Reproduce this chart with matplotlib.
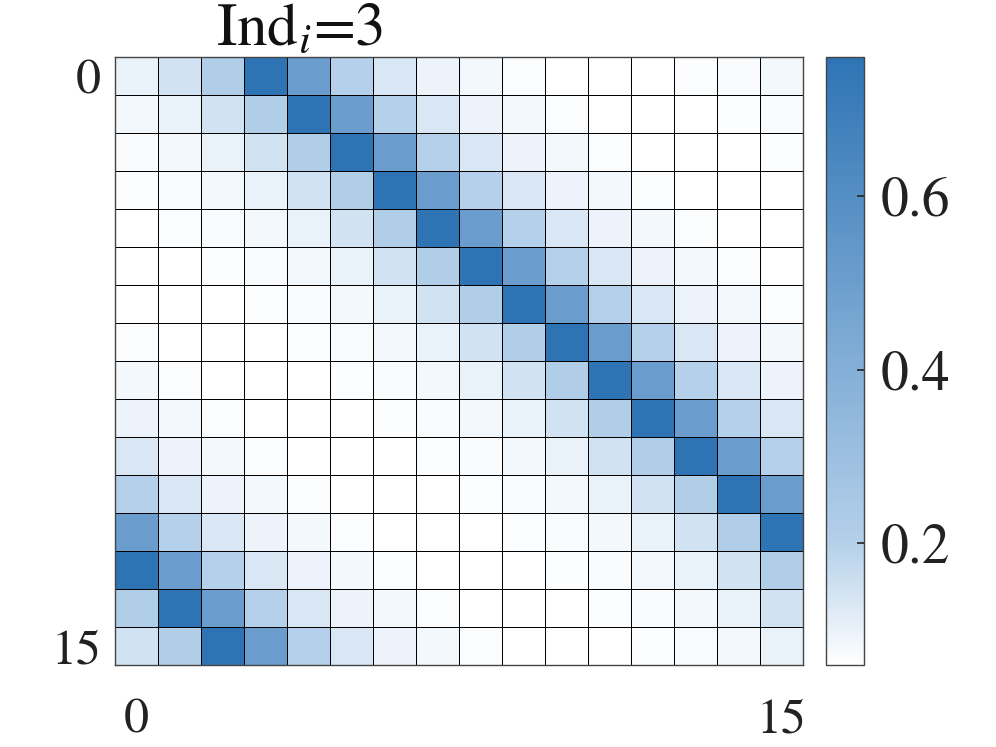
import numpy as np
import matplotlib
matplotlib.use('Agg')
import matplotlib.pyplot as plt
from matplotlib.colors import LinearSegmentedColormap

# weight by column offset from the peak column (col - peak, wrapped mod 16)
profile = [0.76, 0.51, 0.20, 0.133, 0.097, 0.082, 0.070, 0.060,
           0.060, 0.060, 0.068, 0.071, 0.084, 0.103, 0.146, 0.215]
# column of the darkest cell in each row
peak_cols = [3, 4, 5, 6, 7, 8, 9, 10, 11, 12, 13, 14, 15, 0, 1, 2]
x_ticks = [0, 15]
y_ticks = [0, 15]
cbar_ticks = [0.2, 0.4, 0.6]

n = len(profile)
M = np.array([[profile[(c - p) % n] for c in range(n)] for p in peak_cols])

plt.rcParams['font.family'] = ['STIXGeneral', 'DejaVu Serif']
plt.rcParams['mathtext.fontset'] = 'stix'

cmap = LinearSegmentedColormap.from_list(
    'wb', [(0.0, '#ffffff'), (0.2, '#b4d0ea'), (1.0, '#2e74b5')])
vmin, vmax = 0.06, 0.76

fig = plt.figure(figsize=(9.96, 7.47), dpi=100)
ax = fig.add_axes([0.1155, 0.1098, 0.6908, 0.8139])
cax = fig.add_axes([0.8293, 0.1098, 0.0382, 0.8139])

mesh = ax.pcolormesh(np.arange(n + 1) - 0.5, np.arange(n + 1) - 0.5, M,
                     cmap=cmap, vmin=vmin, vmax=vmax,
                     edgecolors='black', linewidth=0.65)
ax.set_xlim(-0.5, n - 0.5)
ax.set_ylim(n - 0.5, -0.5)
ax.set_xticks(x_ticks)
ax.set_yticks(y_ticks)
ax.tick_params(axis='x', length=0, pad=24, labelsize=36, colors='#222222')
ax.tick_params(axis='y', length=0, pad=10, labelsize=36, colors='#222222')
for s in ax.spines.values():
    s.set_color('#444444')
    s.set_linewidth(1.0)

cb = fig.colorbar(mesh, cax=cax, ticks=cbar_ticks)
cb.ax.tick_params(direction='in', length=5, width=1.2, pad=12,
                  labelsize=40, colors='#222222')
cb.outline.set_edgecolor('#444444')
cb.outline.set_linewidth(1.0)
cb.ax.set_yticklabels(['0.2', '0.4', '0.6'])

fig.text(0.301, 0.94, r'Ind$_i$=3', ha='center', va='baseline',
         fontsize=44, color='#111111')

fig.savefig('out.png', dpi=100)
plt.close('all')
